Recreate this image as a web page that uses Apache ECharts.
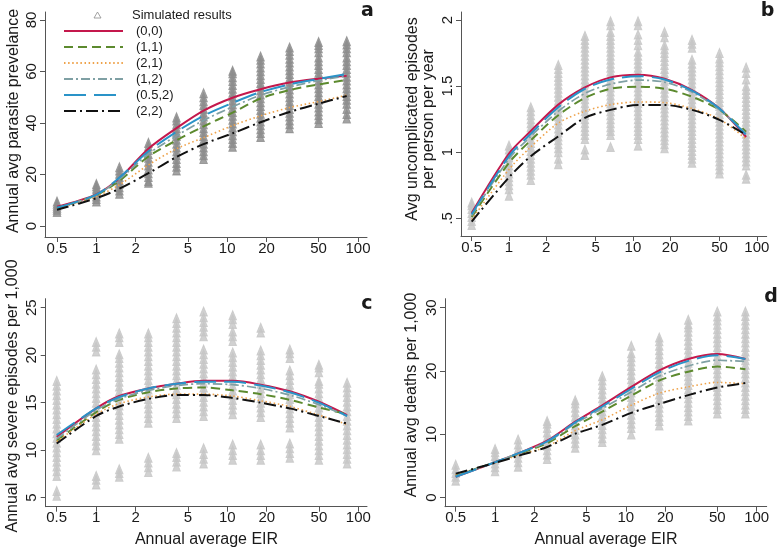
<!DOCTYPE html>
<html><head><meta charset="utf-8">
<script src="https://cdn.jsdelivr.net/npm/echarts@6/dist/echarts.min.js"></script>
<style>html,body{margin:0;padding:0;background:#fff}#c{width:780px;height:552px}</style>
</head><body><div id="c"></div>
<script>
// ---------- DATA ----------
const eir = [0.5, 1, 1.5, 2.5, 4.1, 6.6, 11, 18, 30, 50, 82];
const xTicks = [0.5, 1, 2, 5, 10, 20, 50, 100];
const seriesNames = ['(0,0)', '(1,1)', '(2,1)', '(1,2)', '(0.5,2)', '(2,2)'];
const simName = 'Simulated results';

// panel a: annual avg parasite prevalence
const prevTicks = [0, 20, 40, 60, 80];
const prevSim = [
  [5.5,6.3,7.1,7.9,8.7,9.5],
  [9.5,10.5,11.5,12.5,13.5,14.5,15.5,16.3],
  [12.5,13.8,15.1,16.4,17.7,19,20.3,21.6,22.8],
  [16.8,17.5,19,20.5,22,23.5,25,26.5,28,29.5,31,32.3],
  [21.6,23,24.5,26,27.5,29,30.5,32,33.5,35,36.5,38,39.5,41,42.2],
  [26,27.5,29,30.5,32,33.5,35,36.5,38,39.5,41,42.5,44,45.5,47,48.5,50,51.6],
  [30.8,32.3,33.8,35.3,36.8,38.3,39.8,41.3,42.8,44.3,45.8,47.3,48.8,50.3,51.8,53.3,54.8,56.3,57.8,59.3,60.3],
  [34.6,36.1,37.6,39.1,40.6,42.1,43.6,45.1,46.6,48.1,49.6,51.1,52.6,54.1,55.6,57.1,58.6,60.1,61.6,63.1,64.6,65.8],
  [38,39.5,41,42.5,44,45.5,47,48.5,50,51.5,53,54.5,56,57.5,59,60.5,62,63.5,65,66.5,68,69.3],
  [40,41.5,43,44.5,46,47.5,49,50.5,52,53.5,55,56.5,58,59.5,61,62.5,64,65.5,67.5,69,70.3,71.5],
  [41.8,43.5,45.5,47.5,49,50.5,52,53.5,55,56.5,58,59.5,61,62.5,64,65.5,67.5,69,70.5,71.8]
];
// order follows seriesNames
const prevLines = [
  [7.5,12.3,18.5,30.0,38.0,44.8,49.8,53.1,55.7,57.2,58.3],
  [7.0,12.0,17.6,27.0,33.3,38.7,44.0,49.5,52.8,55.0,56.7],
  [6.6,11.5,16.0,23.7,30.0,34.3,39.0,42.8,46.0,48.3,50.8],
  [7.0,12.1,18.2,28.0,35.0,41.0,46.3,50.8,54.0,56.5,58.3],
  [7.1,12.2,18.8,29.0,36.6,42.8,47.8,52.0,55.0,57.1,59.0],
  [6.3,10.8,14.5,20.5,26.8,31.8,36.0,40.3,44.3,47.5,50.5]
];

// panel b: avg uncomplicated episodes per person per year
const uncTicks = [0.5, 1, 1.5, 2];
const uncSim = [
  [0.45,0.48,0.51,0.54,0.57,0.60,0.62],
  [0.67,0.72,0.75,0.78,0.81,0.84,0.87,0.9,0.93,0.96,0.99,1.02,1.05],
  [0.79,0.83,0.86,0.89,0.92,0.95,0.98,1.01,1.04,1.07,1.1,1.13,1.16,1.19,1.22,1.25,1.28,1.31,1.34],
  [0.91,0.95,1.0,1.03,1.06,1.09,1.12,1.15,1.18,1.21,1.24,1.27,1.3,1.33,1.36,1.39,1.42,1.45,1.48,1.51,1.54,1.57,1.6,1.63,1.66],
  [0.98,1.02,1.1,1.13,1.16,1.19,1.22,1.25,1.28,1.31,1.34,1.37,1.4,1.43,1.46,1.49,1.52,1.55,1.58,1.61,1.64,1.67,1.7,1.73,1.76,1.79,1.82,1.85,1.88],
  [1.04,1.13,1.16,1.19,1.22,1.25,1.28,1.31,1.34,1.37,1.4,1.43,1.46,1.49,1.52,1.55,1.58,1.61,1.64,1.67,1.7,1.73,1.76,1.79,1.82,1.85,1.88,1.91,1.96,1.99],
  [1.05,1.1,1.13,1.16,1.19,1.22,1.25,1.28,1.31,1.34,1.37,1.4,1.43,1.46,1.49,1.52,1.55,1.58,1.61,1.64,1.67,1.7,1.73,1.76,1.81,1.85,1.89,1.96,1.99],
  [1.03,1.06,1.09,1.12,1.15,1.18,1.21,1.24,1.27,1.3,1.33,1.36,1.39,1.42,1.45,1.48,1.51,1.54,1.57,1.6,1.63,1.66,1.69,1.72,1.75,1.78,1.81,1.87,1.91],
  [0.92,0.95,0.98,1.01,1.04,1.07,1.1,1.13,1.16,1.19,1.22,1.25,1.28,1.31,1.34,1.37,1.4,1.43,1.46,1.49,1.52,1.55,1.58,1.61,1.64,1.67,1.7,1.79,1.82,1.85],
  [0.84,0.87,0.9,0.93,0.96,0.99,1.02,1.05,1.08,1.11,1.14,1.17,1.2,1.23,1.26,1.29,1.32,1.35,1.38,1.41,1.44,1.47,1.5,1.53,1.56,1.59,1.62,1.65,1.68,1.71,1.75],
  [0.8,0.83,0.9,0.93,0.96,0.99,1.02,1.05,1.08,1.11,1.14,1.17,1.2,1.23,1.26,1.29,1.32,1.35,1.38,1.41,1.44,1.47,1.5,1.55,1.6,1.64]
];
const uncLines = [
  [0.54,0.99,1.16,1.36,1.49,1.566,1.585,1.555,1.47,1.33,1.115],
  [0.51,0.92,1.09,1.28,1.41,1.48,1.496,1.48,1.42,1.32,1.155],
  [0.49,0.87,1.04,1.22,1.31,1.36,1.38,1.375,1.33,1.25,1.10],
  [0.52,0.95,1.12,1.31,1.445,1.515,1.545,1.53,1.455,1.32,1.14],
  [0.53,0.97,1.14,1.34,1.48,1.55,1.575,1.55,1.465,1.33,1.13],
  [0.475,0.81,0.97,1.12,1.26,1.32,1.357,1.357,1.32,1.245,1.13]
];

// panel c: annual avg severe episodes per 1,000
const sevTicks = [5, 10, 15, 20, 25];
const sevSim = [
  [5.2,5.7,7.3,7.8,8.3,8.8,9.3,9.8,10.3,10.8,11.3,11.8,12.3,12.8,13.3,13.8,14.3,14.8,15.3,15.8,16.3,16.8,17.3],
  [6.4,6.9,7.3,10.0,10.5,11.0,11.5,12.0,12.5,13.0,13.5,14.0,14.5,15.0,15.5,16.0,16.5,17.0,17.5,18.0,18.5,20.4,20.9,21.4],
  [7.2,7.6,8.0,11.2,11.7,12.2,12.7,13.2,13.7,14.2,14.7,15.2,15.7,16.2,16.7,17.2,17.7,18.2,18.7,19.2,19.7,20.1,21.4,21.9,22.3],
  [7.7,8.2,8.7,9.2,12.9,13.4,13.9,14.4,14.9,15.4,15.9,16.4,16.9,17.4,17.9,18.4,18.9,19.4,19.9,20.4,20.9,21.4,21.9,22.3],
  [8.3,8.8,9.3,9.7,13.4,13.9,14.4,14.9,15.4,15.9,16.4,16.9,17.4,17.9,18.4,18.9,19.4,19.9,20.4,20.9,21.4,21.9,22.4,22.9,23.4,23.9],
  [8.6,9.1,9.6,10.2,13.6,14.1,14.6,15.1,15.6,16.1,16.6,17.1,17.6,18.1,18.6,19.1,19.6,20.1,20.6,22.0,22.5,23.0,23.5,24.0,24.6],
  [9.0,9.5,10.0,10.6,13.8,14.3,14.8,15.3,15.8,16.3,16.8,17.3,17.8,18.3,18.8,19.3,19.8,20.3,21.5,22.0,22.5,23.3,23.8,24.2],
  [9.0,9.5,10.0,10.6,13.5,14.0,14.5,15.0,15.5,16.0,16.5,17.0,17.5,18.0,18.5,19.0,19.5,20.0,20.5,22.4,22.9],
  [9.2,9.7,10.2,10.7,12.4,12.9,13.4,13.9,14.4,14.9,15.4,15.9,16.4,16.9,17.4,17.9,18.4,19.7,20.2,20.6],
  [9.0,9.5,10.0,10.5,11.0,11.5,12.0,12.5,13.0,13.5,14.0,14.5,15.0,15.5,16.0,16.5,17.0,17.3,18.2,18.7,19.0],
  [8.6,9.1,9.6,10.1,10.6,11.1,11.6,12.1,12.6,13.1,13.6,14.1,14.6,15.1,15.6,16.1,16.6,17.1]
];
const sevLines = [
  [11.4,14.4,15.7,16.5,17.0,17.3,17.3,16.9,16.2,15.1,13.7],
  [11.0,14.0,15.3,16.1,16.5,16.6,16.3,15.9,15.3,14.5,13.8],
  [10.9,13.8,14.9,15.6,15.9,15.9,15.7,15.2,14.6,13.7,12.7],
  [11.2,14.2,15.4,16.3,16.8,17.0,16.9,16.5,15.8,14.8,13.6],
  [11.6,14.4,15.6,16.5,17.0,17.2,17.2,16.8,16.1,15.0,13.6],
  [10.7,13.6,14.6,15.4,15.8,15.8,15.5,15.0,14.4,13.6,12.8]
];

// panel d: annual avg deaths per 1,000
const deathTicks = [0, 10, 20, 30];
const deathSim = [
  [2.7,3.3,3.9,4.5,5.2],
  [4.2,4.8,5.4,6.0,6.6,7.2,7.7],
  [4.9,5.6,6.3,7.0,7.7,8.4,9.2],
  [6.1,6.8,7.5,8.2,8.9,9.6,10.3,11.0,11.7,12.1],
  [7.9,8.6,9.3,10.0,10.7,11.4,12.1,12.8,13.5,14.2,14.9,15.4],
  [8.8,9.4,10.1,10.8,11.5,12.2,12.9,13.6,14.3,15.0,15.7,16.4,17.1,17.8,18.5,19.2],
  [10.0,11.0,11.7,12.4,13.1,13.8,14.5,15.2,15.9,16.6,17.3,18.0,18.7,19.4,20.1,20.8,21.5,22.2,22.8,24.0],
  [11.4,12.1,12.8,13.5,14.2,14.9,15.6,16.3,17.0,17.7,18.4,19.1,19.8,20.5,21.2,21.9,22.6,23.3,24.0,24.7,25.3],
  [12.2,12.9,13.6,14.3,15.0,15.7,16.4,17.1,17.8,18.5,19.2,19.9,20.6,21.3,22.0,22.7,23.4,24.1,24.8,25.5,26.2,26.9,27.4,28.1],
  [13.3,14.0,14.7,15.4,16.1,16.8,17.5,18.2,18.9,19.6,20.3,21.0,21.7,22.4,23.1,23.8,24.5,25.2,25.9,26.6,27.3,28.0,28.6,29.4],
  [13.3,14.0,14.7,15.4,16.1,16.8,17.5,18.2,18.9,19.6,20.3,21.0,21.7,22.4,23.1,23.8,24.5,25.2,25.9,26.6,27.3,28.0,28.7,29.4]
];
const deathLines = [
  [3.3,5.6,7.0,9.0,12.0,14.6,17.5,20.1,21.9,22.7,21.9],
  [3.5,5.6,6.9,8.6,11.3,13.6,16.1,18.5,19.9,20.7,20.3],
  [3.6,5.5,6.7,8.1,10.6,12.3,14.6,16.5,17.5,18.2,18.0],
  [3.4,5.6,7.0,8.8,11.7,14.1,16.7,19.2,20.8,21.7,21.5],
  [3.3,5.6,7.0,8.9,11.9,14.4,17.2,19.8,21.6,22.5,21.9],
  [3.8,5.5,6.6,8.0,10.1,11.5,13.4,14.8,16.2,17.4,18.1]
];

// ---------- STYLE / LAYOUT ----------
const FONT = 'Liberation Sans, Arial, Helvetica, sans-serif';
const lineStyles = [
  {color:'#c4184c', type:'solid', width:2},
  {color:'#5c8a2e', type:[9,5], width:2},
  {color:'#eea24a', type:[1.5,2.6], width:1.6},
  {color:'#7fa0a4', type:[9,3,2,3], width:1.7},
  {color:'#2a93c8', type:[22,8], width:2},
  {color:'#111111', type:[12,4,2,4], width:2}
];
const panels = [
  {sim: prevSim, lines: prevLines, ticks: prevTicks, simColor:'#8c8c8c', fmt: v => String(v),
   left:45, top:12, width:322, height:225, x0:57, ppd:130.8, yA:[80,20], yB:[0,226]},
  {sim: uncSim, lines: uncLines, ticks: uncTicks, simColor:'#c6c6c6', fmt: v => (v === 0.5 ? '.5' : String(v)),
   left:461, top:12, width:305.7, height:224, x0:471.7, ppd:123.9, yA:[2,20], yB:[0.5,218.3]},
  {sim: sevSim, lines: sevLines, ticks: sevTicks, simColor:'#c6c6c6', fmt: v => String(v),
   left:45.7, top:298.7, width:321.3, height:208, x0:56.7, ppd:131.1, yA:[25,307.7], yB:[5,497.7]},
  {sim: deathSim, lines: deathLines, ticks: deathTicks, simColor:'#c6c6c6', fmt: v => String(v),
   left:445, top:298.7, width:321.7, height:208, x0:455.7, ppd:130.8, yA:[30,307.7], yB:[0,497.7]}
];

const grids = [], xAxes = [], yAxes = [], series = [];
const lx = v => Math.log10(v);
const axisCol = '#555';
panels.forEach((P, i) => {
  grids.push({left:P.left, top:P.top, width:P.width, height:P.height, outerBoundsMode:'none', containLabel:false});
  const xmin = lx(0.5) - (P.x0 - P.left) / P.ppd;
  const xmax = lx(0.5) + (P.left + P.width - P.x0) / P.ppd;
  const upp = (P.yA[0] - P.yB[0]) / (P.yB[1] - P.yA[1]);
  const ymax = P.yA[0] + (P.yA[1] - P.top) * upp;
  const ymin = P.yB[0] - (P.top + P.height - P.yB[1]) * upp;
  const xt = xTicks.map(lx);
  xAxes.push({type:'value', gridIndex:i, min:xmin, max:xmax,
    axisLine:{show:true, onZero:false, lineStyle:{color:axisCol, width:1}},
    axisTick:{show:true, length:5, customValues:xt, lineStyle:{color:axisCol, width:1}},
    axisLabel:{customValues:xt, margin:4, fontSize:15, fontFamily:FONT, color:'#1a1a1a',
      formatter: v => String(Math.round(Math.pow(10, v) * 100) / 100)},
    splitLine:{show:false}});
  yAxes.push({type:'value', gridIndex:i, min:ymin, max:ymax,
    axisLine:{show:true, onZero:false, lineStyle:{color:axisCol, width:1}},
    axisTick:{show:true, length:5, customValues:P.ticks, lineStyle:{color:axisCol, width:1}},
    axisLabel:{customValues:P.ticks, rotate:90, margin:6, fontSize:15, fontFamily:FONT, color:'#1a1a1a', formatter:P.fmt},
    splitLine:{show:false}});
  const pts = [];
  P.sim.forEach((col, k) => col.forEach(v => pts.push([lx(eir[k]), v])));
  series.push({type:'scatter', name:simName, xAxisIndex:i, yAxisIndex:i, data:pts,
    symbol:'triangle', symbolSize:[7.5, 9],
    itemStyle:{color:P.simColor, borderColor:P.simColor, borderWidth:1}, z:2, silent:true});
  seriesNames.forEach((nm, k) => {
    const st = lineStyles[k];
    series.push({type:'line', name:nm, xAxisIndex:i, yAxisIndex:i,
      data: eir.map((e, j) => [lx(e), P.lines[k][j]]),
      symbol:'none', showSymbol:false, smooth:0.3, z:3 + k, silent:true,
      itemStyle:{color:st.color}, lineStyle:{color:st.color, type:st.type, width:st.width}});
  });
});

const txt = (x, y, text, size, rot, weight, fam) => ({
  type:'text', x:x, y:y, rotation: rot || 0, silent:true,
  style:{text:text, fill:'#1a1a1a', fontSize:size, fontFamily: fam || FONT, fontWeight: weight || 'normal',
    align:'center', verticalAlign:'middle', lineHeight:16}
});
const R = Math.PI / 2;
const graphic = [
  txt(14, 121, 'Annual avg parasite prevelance', 16, R),
  txt(421, 119, 'Avg uncomplicated episodes\nper person per year', 16, R),
  txt(13, 396, 'Annual avg severe episodes per 1,000', 16, R),
  txt(412, 395, 'Annual avg deaths per 1,000', 16, R),
  txt(206.5, 540, 'Annual average EIR', 16, 0),
  txt(606, 540, 'Annual average EIR', 16, 0),
  txt(367.5, 11.5, 'a', 19, 0, 'bold', 'DejaVu Sans'),
  txt(767.5, 11.4, 'b', 19, 0, 'bold', 'DejaVu Sans'),
  txt(367, 304.5, 'c', 19, 0, 'bold', 'DejaVu Sans'),
  txt(771, 297.4, 'd', 19, 0, 'bold', 'DejaVu Sans')
];

const chart = echarts.init(document.getElementById('c'), null, {renderer:'canvas'});
chart.setOption({
  animation:false,
  backgroundColor:'#ffffff',
  grid:grids, xAxis:xAxes, yAxis:yAxes, series:series,
  legend:[
    {orient:'vertical', left:93.5, top:7, padding:0, itemWidth:7, itemHeight:6, selectedMode:false,
     data:[{name:simName, icon:'triangle', itemStyle:{color:'#ffffff', borderColor:'#8c8c8c', borderWidth:1}}],
     textStyle:{fontSize:13, fontFamily:FONT, color:'#1a1a1a', lineHeight:16, padding:[0,0,0,26]}},
    {orient:'vertical', left:63, top:23, padding:0, itemWidth:59, itemHeight:16, itemGap:0, selectedMode:false,
     data:seriesNames, itemStyle:{opacity:0},
     textStyle:{fontSize:13, fontFamily:FONT, color:'#1a1a1a', lineHeight:16, padding:[0,0,0,8]}}
  ],
  graphic:graphic
});
</script></body></html>
